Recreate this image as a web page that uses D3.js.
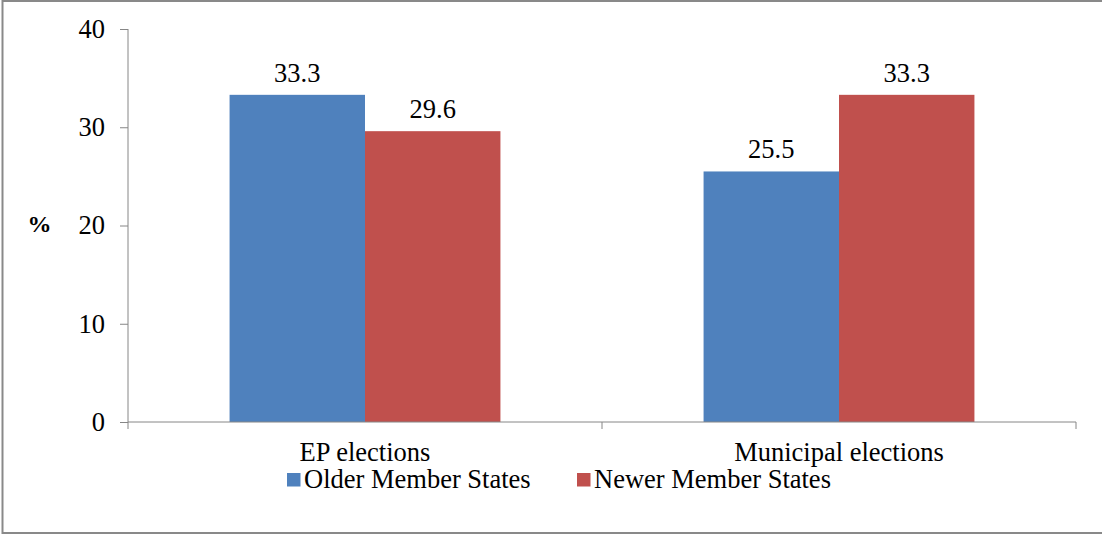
<!DOCTYPE html>
<html><head><meta charset="utf-8">
<script src="https://cdn.jsdelivr.net/npm/d3@7"></script>
</head><body style="margin:0"><svg id="c" width="1102" height="535" style="display:block"></svg>
<script>
const categories = ["EP elections", "Municipal elections"];
const seriesNames = ["Older Member States", "Newer Member States"];
const olderValues = [33.3, 25.5];
const newerValues = [29.6, 33.3];
const yTicks = [0, 10, 20, 30, 40];
const colors = ["#4F81BD", "#C0504D"];

const FS = 26.5;
const svg = d3.select("#c");
svg.append("rect").attr("x",2.5).attr("y",1).attr("width",1102).attr("height",532)
  .attr("fill","#fff").attr("stroke","#898989").attr("stroke-width",2);

const m = {left:128, right:1076, top:29, bottom:422};
const x0 = d3.scaleBand().domain(categories).range([m.left, m.right]);
const y = d3.scaleLinear().domain([0,40]).range([m.bottom, m.top]);
const gap = 1.5;
const barW = x0.bandwidth()/(2+gap);
const xs = d3.scaleBand().domain(seriesNames).range([barW*gap/2, barW*gap/2 + 2*barW]);

const data = categories.map((c,i)=>({c, vals:[olderValues[i], newerValues[i]]}));

function txt(sel, size){
  return sel.style("font-family",'"Liberation Serif"').style("font-size",size+"px").attr("fill","#000");
}

// y axis
const yAxis = d3.axisLeft(y).tickValues(yTicks).tickSize(8).tickPadding(15);
const gy = svg.append("g").attr("transform",`translate(${m.left},0)`).call(yAxis);
gy.attr("font-family",null).attr("font-size",null);
gy.selectAll(".domain").remove();
gy.append("line").attr("x1",0).attr("x2",0).attr("y1",m.top).attr("y2",m.bottom).attr("stroke","#868686");
gy.selectAll(".tick line").attr("stroke","#868686");
txt(gy.selectAll(".tick text"), FS);

// bars
const g = svg.append("g");
data.forEach(d=>{
  d.vals.forEach((v,j)=>{
    const bx = x0(d.c) + xs(seriesNames[j]);
    g.append("rect").attr("x",bx).attr("y",y(v)).attr("width",xs.bandwidth()).attr("height",y(0)-y(v)).attr("fill",colors[j]);
    txt(g.append("text").attr("x",bx+xs.bandwidth()/2).attr("y",y(v)-13).attr("text-anchor","middle"), FS).text(v.toFixed(1));
  });
});

// x axis
const gx = svg.append("g").attr("transform",`translate(0,${m.bottom})`);
gx.append("line").attr("x1",m.left).attr("x2",m.right).attr("stroke","#868686");
[m.left, m.left + x0.bandwidth(), m.right].forEach(t=>{
  gx.append("line").attr("x1",t).attr("x2",t).attr("y1",0).attr("y2",7).attr("stroke","#868686");
});
categories.forEach(c=>{
  txt(gx.append("text").attr("x",x0(c)+x0.bandwidth()/2).attr("y",39).attr("text-anchor","middle"), FS).text(c);
});

// y label
txt(svg.append("text").attr("x",39.5).attr("y",232).attr("text-anchor","middle"), 24)
  .style("font-weight","bold").text("%");

// legend
const legX = [287, 577];
seriesNames.forEach((s,i)=>{
  svg.append("rect").attr("x",legX[i]).attr("y",473).attr("width",13.5).attr("height",13.5).attr("fill",colors[i]);
  txt(svg.append("text").attr("x",legX[i]+17).attr("y",487.5), FS).text(s);
});
</script></body></html>
